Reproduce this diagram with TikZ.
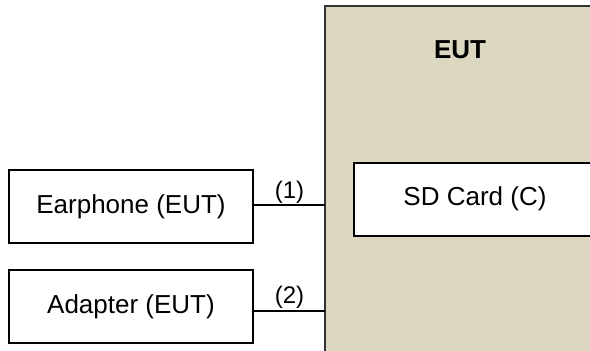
\documentclass[tikz,border=0pt]{standalone}
\usepackage{fontspec}
\setmainfont{Liberation Sans}
\definecolor{eutfill}{HTML}{DCD7C1}
\begin{document}
\begin{tikzpicture}[x=1pt,y=-1pt,
  box/.style={draw=black,line width=1.8pt,fill=white,inner sep=0pt,font=\fontsize{26}{30}\selectfont},
  link/.style={line width=1.8pt},
  lbl/.style={font=\fontsize{24}{28}\selectfont,inner sep=1pt}]
\useasboundingbox (0,0) rectangle (590,351);
\clip (0,0) rectangle (590,351);
\node[draw=black!80,line width=1.8pt,fill=eutfill,minimum width=300pt,minimum height=370pt,anchor=north west,inner sep=0pt] (eut) at (324,5) {};
\node[font=\bfseries\fontsize{26}{30}\selectfont] (eutl) at (460,50) {EUT};
\node[box,minimum width=260pt,minimum height=73pt,anchor=north west] (sd) at (353,162) {};
\node[font=\fontsize{26}{30}\selectfont] (sdl) at (475,199) {SD Card (C)};
\node[box,minimum width=244pt,minimum height=73pt] (ear) at (131,206.5) {Earphone (EUT)};
\node[box,minimum width=244pt,minimum height=73pt] (ad) at (131,306.5) {Adapter (EUT)};
\coordinate (p1) at (325,205);
\coordinate (p2) at (325,311);
\draw[link] (ear.east |- p1) -- node[lbl,above] {(1)} (p1);
\draw[link,line width=2.4pt] (ad.east |- p2) -- node[lbl,above] {(2)} (p2);
\end{tikzpicture}
\end{document}
